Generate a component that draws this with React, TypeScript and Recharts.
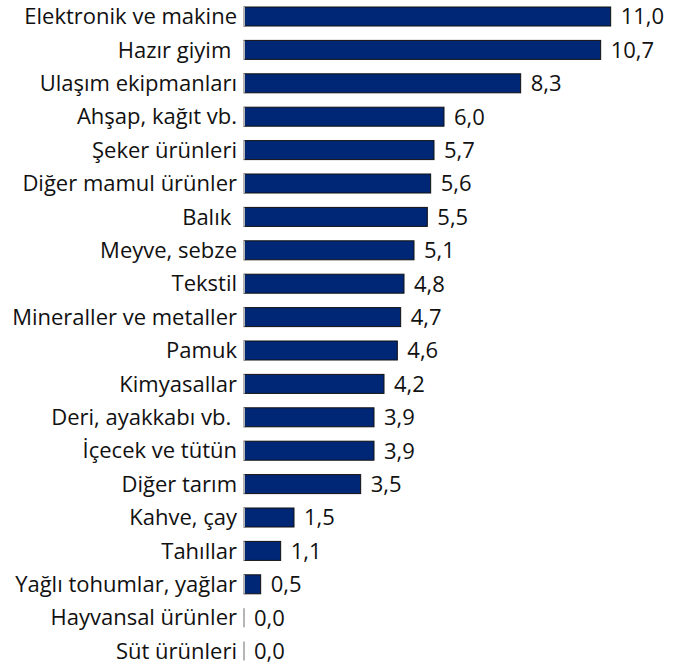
import { BarChart, Bar, XAxis, YAxis, LabelList } from "recharts";

const categories = [
  "Elektronik ve makine",
  "Hazır giyim ",
  "Ulaşım ekipmanları",
  "Ahşap, kağıt vb.",
  "Şeker ürünleri",
  "Diğer mamul ürünler",
  "Balık ",
  "Meyve, sebze",
  "Tekstil",
  "Mineraller ve metaller",
  "Pamuk",
  "Kimyasallar",
  "Deri, ayakkabı vb. ",
  "İçecek ve tütün",
  "Diğer tarım",
  "Kahve, çay",
  "Tahıllar",
  "Yağlı tohumlar, yağlar",
  "Hayvansal ürünler",
  "Süt ürünleri",
];

const values = [11.0, 10.7, 8.3, 6.0, 5.7, 5.6, 5.5, 5.1, 4.8, 4.7, 4.6, 4.2, 3.9, 3.9, 3.5, 1.5, 1.1, 0.5, 0.0, 0.0];

const data = categories.map((name, i) => ({ name, value: values[i] }));

const FONT = "'Open Sans', sans-serif";

const BarShape = (props: any) => {
  const { x, y, width, height } = props;
  return (
    <g>
      {width > 0 && (
        <rect x={x} y={y} width={width} height={height} fill="#002776" stroke="#111" strokeWidth={1} />
      )}
      <line x1={x} x2={x} y1={y} y2={y + height} stroke="#b5b5b5" strokeWidth={2} />
    </g>
  );
};

const CategoryTick = (props: any) => {
  const { x, y, payload } = props;
  return (
    <text
      x={x}
      y={y}
      dy={7.5}
      textAnchor="end"
      fill="#111"
      fontSize={22}
      fontFamily={FONT}
      style={{ whiteSpace: "pre" }}
    >
      {payload.value}
    </text>
  );
};

export default function App() {
  return (
    <div style={{ position: "absolute", left: 0, top: 0, background: "#fff" }}>
      <BarChart
        width={677}
        height={668}
        data={data}
        layout="vertical"
        margin={{ top: 0, right: 33, bottom: 0, left: 0 }}
        barCategoryGap={0}
      >
        <XAxis type="number" domain={[0, 12]} hide />
        <YAxis
          type="category"
          dataKey="name"
          width={244}
          axisLine={false}
          tickLine={false}
          tickSize={0}
          tickMargin={7}
          interval={0}
          tick={<CategoryTick />}
        />
        <Bar dataKey="value" barSize={19} shape={<BarShape />} isAnimationActive={false}>
          <LabelList
            dataKey="value"
            position="right"
            offset={10}
            formatter={(v: any) => Number(v).toFixed(1).replace(".", ",")}
            style={{ fill: "#111", fontSize: 22, fontFamily: FONT }}
          />
        </Bar>
      </BarChart>
    </div>
  );
}
